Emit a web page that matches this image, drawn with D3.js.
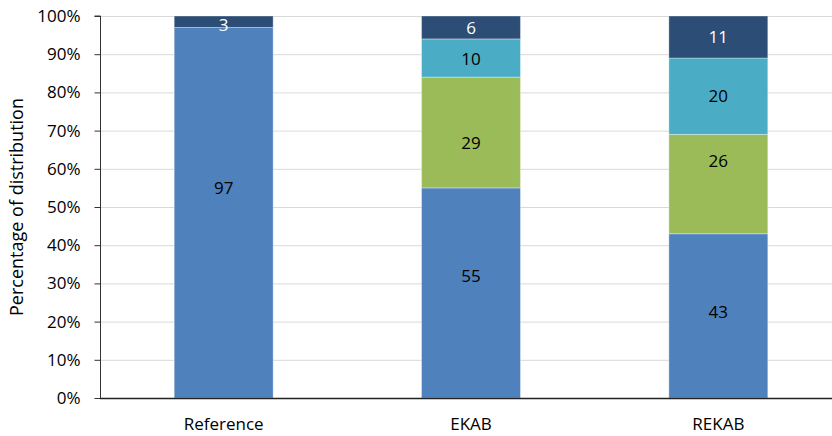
<!DOCTYPE html>
<html>
<head>
<meta charset="utf-8">
<script src="https://cdn.jsdelivr.net/npm/d3@7"></script>
<style>
  body { margin: 0; background: #fff; }
  svg { display: block; font-family: "Open Sans", sans-serif; }
</style>
</head>
<body>
<div id="chart"></div>
<script>
const categories = ['Reference', 'EKAB', 'REKAB'];
const seriesNames = ['s1', 's2', 's3', 's4'];
const s1 = [97, 55, 43];
const s2 = [0, 29, 26];
const s3 = [0, 10, 20];
const s4 = [3, 6, 11];
const yTicks = [0, 10, 20, 30, 40, 50, 60, 70, 80, 90, 100];
const colors = ['#4F81BD', '#9BBB59', '#4BACC6', '#2C4D75'];
const labelColors = ['#000', '#000', '#000', '#fff'];
// hand-placed label nudges (px) as in the original, per series then category
const labelNudge = [[-25, -17, -4], [0, 10, -23], [0, 1, 0], [3, 0, 0]];

const width = 832, height = 436;
const margin = { top: 16, right: -10, bottom: 38, left: 100 };
const font = '"Open Sans", sans-serif';

const svg = d3.select('#chart').append('svg')
    .attr('width', width)
    .attr('height', height);

const x = d3.scaleBand()
    .domain(categories)
    .range([margin.left, width - margin.right])
    .paddingInner(0.6)
    .paddingOuter(0.3);

const y = d3.scaleLinear()
    .domain([0, 100])
    .range([height - margin.bottom, margin.top]);

// gridlines
svg.append('g')
    .selectAll('line')
    .data(yTicks.slice(1))
    .enter().append('line')
    .attr('x1', margin.left)
    .attr('x2', width)
    .attr('y1', d => y(d) + 0.5)
    .attr('y2', d => y(d) + 0.5)
    .attr('stroke', '#d9d9d9')
    .attr('stroke-width', 1);

// stacked data
const rows = categories.map((c, i) => ({ cat: c, idx: i, s1: s1[i], s2: s2[i], s3: s3[i], s4: s4[i] }));
const stacked = d3.stack().keys(seriesNames)(rows);

const layer = svg.append('g')
    .selectAll('g')
    .data(stacked)
    .enter().append('g')
    .attr('fill', (d, i) => colors[i]);

layer.selectAll('rect')
    .data(d => d.filter(p => p[1] - p[0] > 0))
    .enter().append('rect')
    .attr('x', d => x(d.data.cat))
    .attr('width', x.bandwidth())
    .attr('y', d => y(d[1]))
    .attr('height', d => y(d[0]) - y(d[1]))
    .attr('stroke', 'rgba(255,255,255,0.35)')
    .attr('stroke-width', 1);

// value labels
stacked.forEach((ser, i) => {
    svg.append('g')
        .selectAll('text')
        .data(ser.filter(p => p[1] - p[0] > 0))
        .enter().append('text')
        .attr('x', d => x(d.data.cat) + x.bandwidth() / 2)
        .attr('y', d => (y(d[0]) + y(d[1])) / 2 + labelNudge[i][d.data.idx])
        .attr('dy', '0.36em')
        .attr('text-anchor', 'middle')
        .attr('font-size', 17)
        .attr('fill', labelColors[i])
        .text(d => d[1] - d[0]);
});

// y axis
const yAxis = svg.append('g')
    .attr('transform', `translate(${margin.left + 0.5},0)`)
    .call(d3.axisLeft(y).tickValues(yTicks).tickSize(6).tickFormat(d => d + '%'));
yAxis.select('.domain').attr('stroke', '#333').attr('d', `M-6,${y(100)}H0V${y(0)}`);
yAxis.selectAll('.tick line').attr('stroke', '#333');
yAxis.selectAll('.tick text')
    .attr('font-size', 17)
    .attr('fill', '#000')
    .attr('x', -20)
    .attr('font-family', font);

// x axis
const xAxis = svg.append('g')
    .attr('transform', `translate(0,${y(0) + 0.5})`)
    .call(d3.axisBottom(x).tickSize(0).tickPadding(19));
xAxis.select('.domain').attr('stroke', '#222').attr('stroke-width', 1.3).attr('d', `M${margin.left},0H${width}`);
xAxis.selectAll('.tick text')
    .attr('font-size', 17)
    .attr('fill', '#000')
    .attr('font-family', font);

// y axis title
svg.append('text')
    .attr('transform', `translate(23,${(y(0) + y(100)) / 2}) rotate(-90)`)
    .attr('text-anchor', 'middle')
    .attr('font-size', 18)
    .attr('fill', '#000')
    .text('Percentage of distribution');
</script>
</body>
</html>
